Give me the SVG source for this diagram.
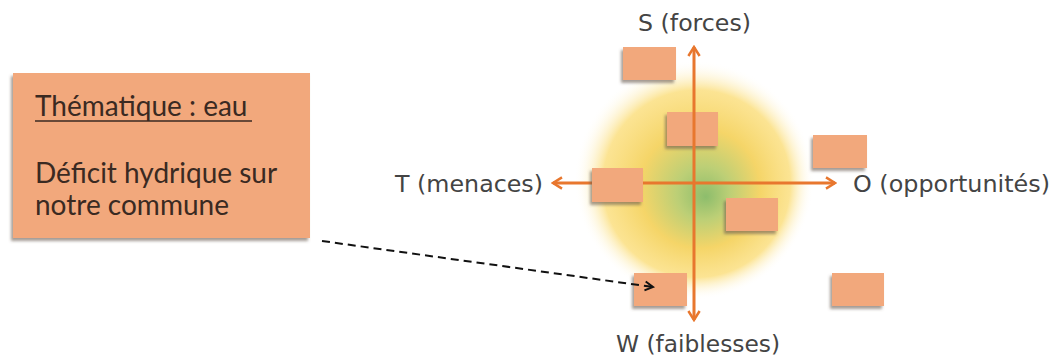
<svg xmlns="http://www.w3.org/2000/svg" width="1055" height="362" viewBox="0 0 1055 362">
<defs>
<style>
.box{fill:#F2A87C;filter:url(#sh);}
.axis{stroke:#E8772E;stroke-width:3;fill:none;}
.lbl{font-family:"DejaVu Sans","Open Sans",sans-serif;font-size:23px;fill:#444;}
.bt{font-family:Lato,"Liberation Sans",sans-serif;font-size:28px;fill:#3a2a22;}
</style>
<filter id="sh" x="-20%" y="-20%" width="140%" height="150%">
<feDropShadow dx="-2" dy="3" stdDeviation="1.5" flood-color="#6b5a50" flood-opacity="0.6"/>
</filter>
<radialGradient id="glow" cx="0.5" cy="0.5" r="0.5" fx="0.55" fy="0.57">
<stop offset="0" stop-color="#8dbd6c"/>
<stop offset="0.22" stop-color="#bccf76"/>
<stop offset="0.5" stop-color="#f5d568"/>
<stop offset="0.78" stop-color="#fbdf80" stop-opacity="0.85"/>
<stop offset="1" stop-color="#ffffff" stop-opacity="0"/>
</radialGradient>
<marker id="oa" viewBox="0 0 12 12" refX="10" refY="6" markerWidth="4.5" markerHeight="4.5" orient="auto-start-reverse" markerUnits="strokeWidth">
<path d="M2,1 L10,6 L2,11" fill="none" stroke="#E8772E" stroke-width="2.2"/>
</marker>
<marker id="ka" viewBox="0 0 12 12" refX="10" refY="6" markerWidth="6" markerHeight="6" orient="auto" markerUnits="strokeWidth">
<path d="M2,1.5 L10,6 L2,10.5" fill="none" stroke="#111" stroke-width="2"/>
</marker>
</defs>

<g id="background">
<circle cx="694" cy="180" r="120" fill="url(#glow)"/>
</g>

<g id="theme-box">
<rect class="box" x="13" y="73" width="297" height="165"/>
<text class="bt" x="35" y="116">Thématique : eau</text>
<line x1="35" y1="121" x2="252" y2="121" stroke="#3a2a22" stroke-width="1.5"/>
<text class="bt" x="35" y="183">Déficit hydrique sur</text>
<text class="bt" x="35" y="215">notre commune</text>
</g>

<g id="card1"><rect class="box" x="623" y="47" width="53" height="33"/></g>
<g id="card2"><rect class="box" x="667" y="112" width="51" height="34"/></g>
<g id="card4"><rect class="box" x="813" y="135" width="54" height="33"/></g>
<g id="card5"><rect class="box" x="726" y="198" width="52" height="33"/></g>
<g id="card7"><rect class="box" x="832" y="273" width="52" height="33"/></g>

<g id="connectors">
<line class="axis" x1="694" y1="320" x2="694" y2="47" marker-start="url(#oa)" marker-end="url(#oa)"/>
<line class="axis" x1="553" y1="183" x2="835" y2="183" marker-start="url(#oa)" marker-end="url(#oa)"/>
</g>

<g id="card3"><rect class="box" x="592" y="168" width="51" height="34"/></g>
<g id="card6"><rect class="box" x="634" y="273" width="53" height="33"/></g>

<g id="link">
<line x1="322" y1="241" x2="653" y2="287" stroke="#111" stroke-width="2" stroke-dasharray="8,5" marker-end="url(#ka)"/>
</g>

<g id="labels">
<text class="lbl" x="638" y="31" textLength="113" lengthAdjust="spacingAndGlyphs">S (forces)</text>
<text class="lbl" x="616" y="352" textLength="164" lengthAdjust="spacingAndGlyphs">W (faiblesses)</text>
<text class="lbl" x="395" y="192" textLength="148" lengthAdjust="spacingAndGlyphs">T (menaces)</text>
<text class="lbl" x="853" y="192" textLength="197" lengthAdjust="spacingAndGlyphs">O (opportunités)</text>
</g>
</svg>
